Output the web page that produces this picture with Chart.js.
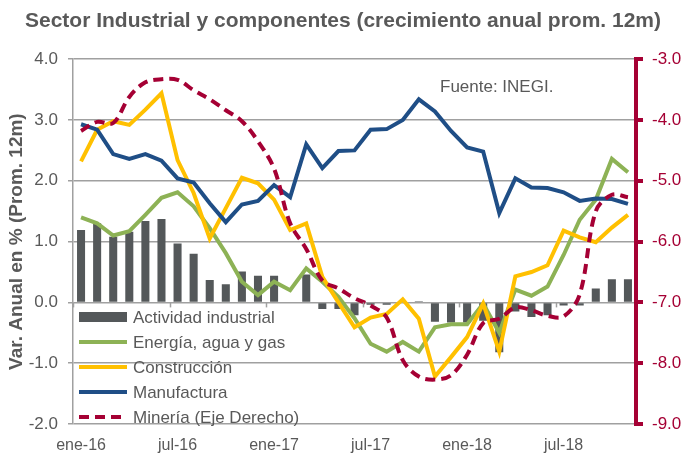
<!DOCTYPE html>
<html>
<head>
<meta charset="utf-8">
<script src="https://cdn.jsdelivr.net/npm/chart.js@4.4.1/dist/chart.umd.min.js"></script>
<style>
  html, body { margin: 0; padding: 0; background: #fff; }
  #wrap { width: 686px; height: 456px; position: relative; }
</style>
</head>
<body>
<div id="wrap"><canvas id="chart" width="686" height="456"></canvas></div>
<script>
// meses ene-16 .. nov-18
const months = ['ene-16','feb-16','mar-16','abr-16','may-16','jun-16','jul-16','ago-16','sep-16','oct-16','nov-16','dic-16',
                'ene-17','feb-17','mar-17','abr-17','may-17','jun-17','jul-17','ago-17','sep-17','oct-17','nov-17','dic-17',
                'ene-18','feb-18','mar-18','abr-18','may-18','jun-18','jul-18','ago-18','sep-18','oct-18','nov-18'];

const actividad = [1.19, 1.30, 1.08, 1.16, 1.34, 1.37, 0.97, 0.80, 0.37, 0.30, 0.51, 0.44,
                   0.44, 0.01, 0.46, -0.11, -0.11, -0.21, -0.04, -0.04, 0.01, 0.02, -0.32, -0.33,
                   -0.33, -0.30, -0.82, -0.15, -0.24, -0.21, -0.05, -0.05, 0.23, 0.38, 0.38];

const energia = [1.40, 1.30, 1.10, 1.17, 1.44, 1.72, 1.81, 1.58, 1.22, 0.81, 0.34, 0.12,
                 0.34, 0.20, 0.56, 0.34, 0.09, -0.26, -0.68, -0.81, -0.65, -0.81, -0.41, -0.36,
                 -0.36, -0.02, -0.50, 0.21, 0.11, 0.26, 0.78, 1.36, 1.69, 2.36, 2.14];

const construccion = [2.32, 2.84, 2.98, 2.92, 3.17, 3.44, 2.34, 1.80, 1.05, 1.55, 2.05, 1.96,
                      1.69, 1.19, 1.30, 0.42, 0.00, -0.41, -0.25, -0.19, 0.05, -0.27, -1.22, -0.90,
                      -0.57, -0.02, -0.81, 0.43, 0.50, 0.61, 1.18, 1.07, 0.99, 1.23, 1.44];

const manufactura = [2.93, 2.84, 2.44, 2.36, 2.44, 2.33, 2.04, 1.97, 1.63, 1.32, 1.61, 1.67,
                     1.93, 1.73, 2.60, 2.21, 2.49, 2.50, 2.84, 2.85, 3.00, 3.34, 3.14, 2.82,
                     2.55, 2.48, 1.47, 2.04, 1.89, 1.88, 1.81, 1.67, 1.71, 1.70, 1.62];

// eje derecho
const mineria = [-4.18, -4.03, -4.05, -3.62, -3.38, -3.33, -3.34, -3.51, -3.66, -3.84, -4.02, -4.35,
                 -4.80, -5.70, -6.12, -6.64, -6.77, -6.93, -7.05, -7.25, -7.95, -8.22, -8.27, -8.20,
                 -7.86, -7.34, -7.27, -7.08, -7.13, -7.22, -7.23, -6.87, -5.50, -5.23, -5.27];

const GRAY = '#595959';
const CRIMSON = '#A50034';

// leyenda dentro del area, abajo a la izquierda
const insideLegend = {
  id: 'insideLegend',
  afterDraw(chart) {
    const ctx = chart.ctx;
    const x0 = chart.chartArea.left + 6;
    let y = 317;
    ctx.save();
    ctx.font = '17px "Liberation Sans", Arial, sans-serif';
    ctx.textBaseline = 'middle';
    chart.data.datasets.forEach(ds => {
      if (ds.type === 'bar') {
        ctx.fillStyle = ds.backgroundColor;
        ctx.fillRect(x0, y - 5, 48, 10);
      } else {
        ctx.strokeStyle = ds.borderColor;
        ctx.lineWidth = 4;
        ctx.setLineDash(ds.borderDash || []);
        ctx.beginPath();
        ctx.moveTo(x0, y);
        ctx.lineTo(x0 + 48, y);
        ctx.stroke();
        ctx.setLineDash([]);
      }
      ctx.fillStyle = GRAY;
      ctx.fillText(ds.label, x0 + 54, y + 1);
      y += 25;
    });
    ctx.restore();
  }
};

// marcas del eje de categorias sobre la linea de cero + fuente
const extras = {
  id: 'extras',
  afterDatasetsDraw(chart) {
    const ctx = chart.ctx;
    const xs = chart.scales.x;
    const y0 = chart.scales.y.getPixelForValue(0);
    const half = (xs.getPixelForValue(1) - xs.getPixelForValue(0)) / 2;
    ctx.save();
    ctx.strokeStyle = '#a0a0a0';
    ctx.lineWidth = 1.5;
    for (let i = 0; i < months.length; i += 6) {
      const px = Math.round(xs.getPixelForValue(i) - half) + 0.5;
      ctx.beginPath();
      ctx.moveTo(px, y0);
      ctx.lineTo(px, y0 + 5);
      ctx.stroke();
    }
    ctx.fillStyle = GRAY;
    ctx.font = '17px "Liberation Sans", Arial, sans-serif';
    ctx.textBaseline = 'middle';
    ctx.fillText('Fuente: INEGI.', 440, 87);
    ctx.restore();
  }
};

const ctx = document.getElementById('chart').getContext('2d');
new Chart(ctx, {
  data: {
    labels: months,
    datasets: [
      { type: 'bar', label: 'Actividad industrial', data: actividad, yAxisID: 'y',
        backgroundColor: '#54585A', categoryPercentage: 1.0, barPercentage: 0.5, order: 10 },
      { type: 'line', label: 'Energía, agua y gas', data: energia, yAxisID: 'y',
        borderColor: '#8DB255', borderWidth: 4, pointRadius: 0, tension: 0, order: 4 },
      { type: 'line', label: 'Construcción', data: construccion, yAxisID: 'y',
        borderColor: '#FFC000', borderWidth: 4, pointRadius: 0, tension: 0, order: 3 },
      { type: 'line', label: 'Manufactura', data: manufactura, yAxisID: 'y',
        borderColor: '#1F4E86', borderWidth: 4, pointRadius: 0, tension: 0, order: 2 },
      { type: 'line', label: 'Minería (Eje Derecho)', data: mineria, yAxisID: 'y2',
        borderColor: CRIMSON, borderWidth: 4, borderDash: [10, 6], pointRadius: 0,
        tension: 0.35, cubicInterpolationMode: 'default', order: 1 }
    ]
  },
  options: {
    responsive: false,
    animation: false,
    layout: { padding: 0 },
    plugins: {
      legend: { display: false },
      tooltip: { enabled: false },
      title: {
        display: true,
        text: 'Sector Industrial y componentes (crecimiento anual prom. 12m)',
        color: GRAY,
        font: { family: '"Liberation Sans", Arial, sans-serif', size: 21, weight: 'bold', lineHeight: 1.2 },
        padding: { top: 9, bottom: 25 }
      }
    },
    scales: {
      x: {
        offset: true,
        grid: { display: false, offset: true },
        border: { display: false },
        ticks: {
          autoSkip: false, maxRotation: 0, color: GRAY, padding: 4,
          font: { family: '"Liberation Sans", Arial, sans-serif', size: 16 },
          callback: (v, i) => (i % 6 === 0 ? months[i] : '')
        },
        afterFit: s => { s.height = 32; }
      },
      y: {
        position: 'left',
        min: -2, max: 4,
        ticks: {
          stepSize: 1, color: GRAY, padding: 10,
          font: { family: '"Liberation Sans", Arial, sans-serif', size: 17 },
          callback: v => v.toFixed(1)
        },
        grid: { color: '#a0a0a0', lineWidth: 1.5, tickLength: 5 },
        border: { display: true, color: '#a0a0a0', width: 1.5 },
        title: {
          display: true, text: 'Var. Anual en % (Prom. 12m)', color: GRAY,
          font: { family: '"Liberation Sans", Arial, sans-serif', size: 19, weight: 'bold', lineHeight: 1.2 },
          padding: { top: 5, bottom: 0 }
        },
        afterFit: s => { s.width = 73; }
      },
      y2: {
        position: 'right',
        min: -9, max: -3,
        ticks: {
          stepSize: 1, color: CRIMSON, padding: 9,
          font: { family: '"Liberation Sans", Arial, sans-serif', size: 17 },
          callback: v => v.toFixed(1)
        },
        grid: { drawOnChartArea: false, color: CRIMSON, lineWidth: 4, tickLength: 7 },
        border: { display: true, color: CRIMSON, width: 4 },
        afterFit: s => { s.width = 50; }
      }
    }
  },
  plugins: [extras, insideLegend]
});
</script>
</body>
</html>
